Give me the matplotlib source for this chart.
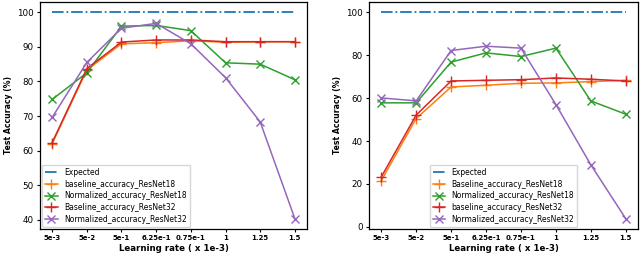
import matplotlib
matplotlib.use("Agg")
import matplotlib.pyplot as plt

x_labels = ["5e-3", "5e-2", "5e-1", "6.25e-1", "0.75e-1", "1", "1.25", "1.5"]
expected = [100, 100, 100, 100, 100, 100, 100, 100]

# Left panel
l_base18 = [62.0, 83.3, 90.9, 91.2, 91.8, 91.3, 91.5, 91.5]
l_norm18 = [74.8, 82.5, 96.0, 96.2, 94.7, 85.4, 85.0, 80.5]
l_base32 = [62.3, 83.7, 91.4, 92.0, 92.0, 91.5, 91.5, 91.5]
l_norm32 = [69.6, 85.5, 95.4, 96.8, 90.9, 81.1, 68.3, 40.3]
l_labels = ["Expected", "baseline_accuracy_ResNet18", "Normalized_accuracy_ResNet18",
            "Baseline_accuracy_ResNet32", "Normalized_accuracy_ResNet32"]

# Right panel
r_base18 = [21.5, 50.5, 65.2, 66.0, 66.9, 67.1, 67.7, 68.3]
r_norm18 = [57.8, 57.8, 76.8, 81.1, 79.4, 83.3, 58.7, 52.5]
r_base32 = [23.2, 52.1, 68.0, 68.3, 68.6, 69.4, 68.8, 68.0]
r_norm32 = [60.1, 58.7, 82.2, 84.2, 83.3, 57.0, 28.9, 3.8]
r_labels = ["Expected", "Baseline_accuracy_ResNet18", "Normalized_accuracy_ResNet18",
            "baseline_accuracy_ResNet32", "Normalized_accuracy_ResNet32"]

fig = plt.figure(figsize=(6.4, 2.58), dpi=100)
ax1 = fig.add_axes([40/640, 1-229/258, 267/640, 227/258])
ax2 = fig.add_axes([369/640, 1-229/258, 269/640, 227/258])

def draw(ax, b18, n18, b32, n32, labels, loc):
    xs = list(range(len(x_labels)))
    lw = 1.1
    ax.plot(xs, expected, color="#1f77b4", linestyle="-.", linewidth=1.3, label=labels[0])
    ax.plot(xs, b18, color="#ff7f0e", marker="+", markersize=7, markeredgewidth=1.0, linewidth=lw, label=labels[1])
    ax.plot(xs, n18, color="#2ca02c", marker="x", markersize=6, markeredgewidth=1.0, linewidth=lw, label=labels[2])
    ax.plot(xs, b32, color="#d62728", marker="+", markersize=7, markeredgewidth=1.0, linewidth=lw, label=labels[3])
    ax.plot(xs, n32, color="#9467bd", marker="x", markersize=6, markeredgewidth=1.0, linewidth=lw, label=labels[4])
    ax.set_xticks(xs)
    ax.set_xticklabels(x_labels, fontsize=5, fontweight="bold")
    ax.tick_params(axis="both", length=2.5, width=0.8, pad=2)
    ax.tick_params(axis="y", labelsize=6.3)
    ax.set_xlabel("Learning rate ( x 1e-3)", fontsize=6.2, fontweight="bold", labelpad=2)
    ax.set_ylabel("Test Accuracy (%)", fontsize=5.6, fontweight="bold", labelpad=3)
    for s in ax.spines.values():
        s.set_linewidth(0.9)
    ax.legend(loc=loc, fontsize=5.5, handlelength=1.6, labelspacing=0.35,
              borderpad=0.4, handletextpad=0.9, borderaxespad=0.3)

draw(ax1, l_base18, l_norm18, l_base32, l_norm32, l_labels, "lower left")
draw(ax2, r_base18, r_norm18, r_base32, r_norm32, r_labels, "lower center")

fig.savefig("out.png", dpi=100)
